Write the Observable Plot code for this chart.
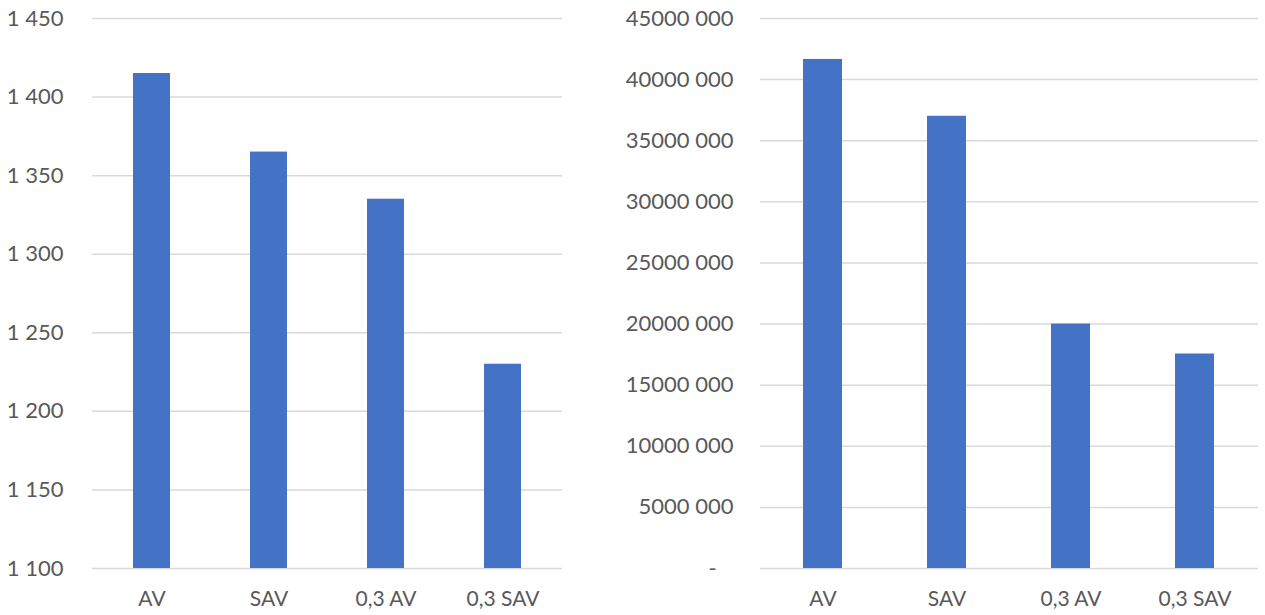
<!DOCTYPE html>
<html>
<head>
<meta charset="utf-8">
<script src="https://cdn.jsdelivr.net/npm/d3@7"></script>
<script src="https://cdn.jsdelivr.net/npm/@observablehq/plot@0.6"></script>
<style>
  html, body { margin: 0; padding: 0; background: #fff; }
  #wrap { position: relative; width: 1265px; height: 615px; }
  #left, #right { position: absolute; top: 0; }
  #left { left: 0; }
  #right { left: 665px; }
  svg { font-family: Lato, "Open Sans", sans-serif; }
</style>
</head>
<body>
<div id="wrap"><div id="left"></div><div id="right"></div></div>
<script>
const categories = ["AV", "SAV", "0,3 AV", "0,3 SAV"];
const leftValues = [1415, 1365, 1335, 1230];
const rightValues = [41650000, 37000000, 20000000, 17550000];
const leftTicks = [1100, 1150, 1200, 1250, 1300, 1350, 1400, 1450];
const rightTicks = [0, 5000000, 10000000, 15000000, 20000000, 25000000, 30000000, 35000000, 40000000, 45000000];

const BLUE = "#4472C4", GRID = "#D9D9D9", TEXT = "#595959";

const leftData = categories.map((c, i) => ({cat: c, v: leftValues[i]}));
const rightData = categories.map((c, i) => ({cat: c, v: rightValues[i]}));

const fmtLeft = d => { const s = String(d); return s.length > 3 ? s.slice(0, -3) + " " + s.slice(-3) : s; };
const fmtRight = d => d === 0 ? "-\u00a0\u00a0\u00a0" : Math.floor(d / 1000) + " " + String(d % 1000).padStart(3, "0");

function chart(data, domain, ticks, fmt, width, ml, mr, pad) {
  return Plot.plot({
    width, height: 615,
    marginLeft: ml, marginRight: mr, marginTop: 18, marginBottom: 47,
    style: {color: TEXT, background: "#fff", overflow: "visible"},
    x: {domain: categories, paddingInner: 0.685, paddingOuter: 0.3425, label: null, align: 0.5},
    y: {domain, label: null},
    marks: [
      Plot.gridY(ticks, {stroke: GRID, strokeOpacity: 1, strokeWidth: 1.5}),
      Plot.barY(data, {x: "cat", y1: domain[0], y2: "v", fill: BLUE}),
      Plot.axisY(ticks, {tickSize: 0, tickPadding: pad, tickFormat: fmt, fontSize: 22, fill: TEXT, label: null}),
      Plot.axisX({tickSize: 0, tickPadding: 23, fontSize: 21, fill: TEXT, label: null})
    ]
  });
}

document.getElementById("left").appendChild(chart(leftData, [1100, 1450], leftTicks, fmtLeft, 565, 92, 3, 29));
document.getElementById("right").appendChild(chart(rightData, [0, 45000000], rightTicks, fmtRight, 600, 95, 7, 27));
</script>
</body>
</html>
